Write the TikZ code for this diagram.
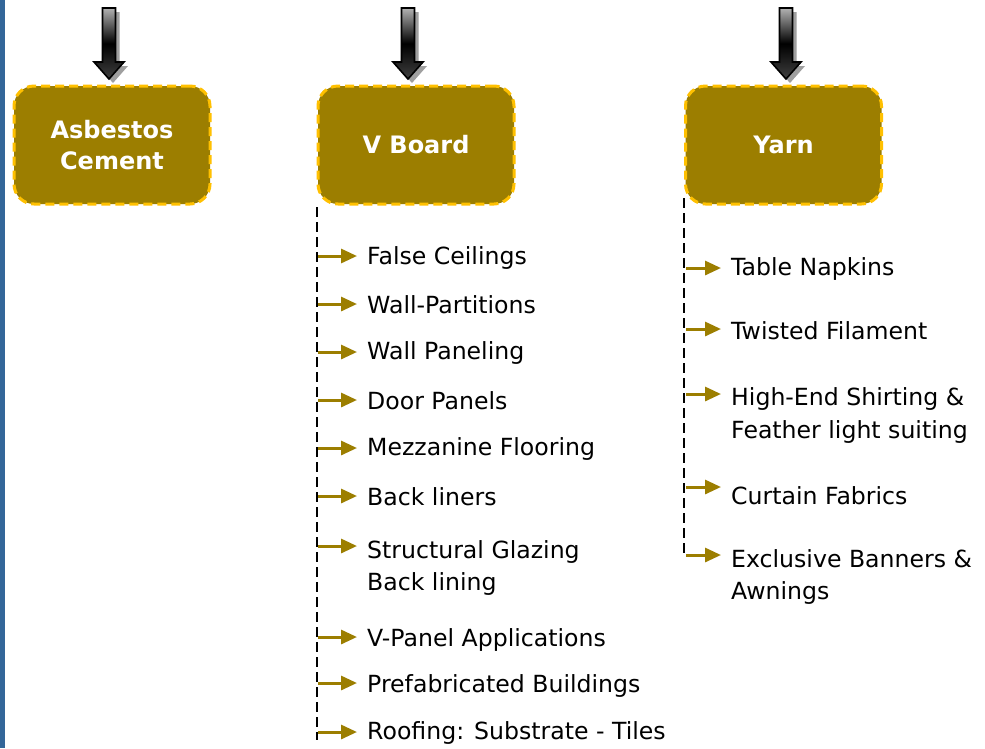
\documentclass[tikz,border=0pt]{standalone}
\usepackage{fontspec}
\setmainfont{DejaVu Sans}
\usetikzlibrary{arrows.meta}
\definecolor{olive}{HTML}{9C7E00}
\definecolor{goldline}{HTML}{FFC000}
\definecolor{sidebar}{HTML}{336699}
\tikzset{
  catbox/.style={draw=goldline, dash pattern=on 9pt off 5pt, line width=3pt, fill=olive,
    rounded corners=20pt, minimum width=196pt, minimum height=118pt, text=white,
    font=\fontsize{24}{31}\selectfont\bfseries, align=center},
  item/.style={anchor=west, inner sep=0pt, font=\fontsize{23.6}{32.5}\selectfont, align=left, text=black},
  trunk/.style={draw=black, line width=2.4pt, dash pattern=on 10pt off 5pt},
  leaf/.style={draw=olive, line width=3pt, -{Triangle[length=16pt,width=14pt]}, shorten >=10pt},
  blockarrow/.style={draw=black, line width=1.6pt, top color=gray!60, bottom color=gray!50!black, middle color=black}
}
\newcommand{\downarrowat}[1]{%
  \fill[gray!75] ([xshift=4pt,yshift=-4pt]#1) ++(-6.5,0) -- ++(0,54) -- ++(-8.5,0) -- ++(15,17) -- ++(15,-17) -- ++(-8.5,0) -- ++(0,-54) -- cycle;
  \path[blockarrow] (#1) ++(-6.5,0) -- ++(0,54) -- ++(-8.5,0) -- ++(15,17) -- ++(15,-17) -- ++(-8.5,0) -- ++(0,-54) -- cycle;
}
\begin{document}
\begin{tikzpicture}[x=1pt,y=-1pt]
\useasboundingbox (0,0) rectangle (985,748);
\fill[white] (0,0) rectangle (985,748);
\fill[sidebar] (0,0) rectangle (5,748);

% category boxes
\node[catbox] (ac) at (112,145) {Asbestos\\Cement};
\node[catbox] (vb) at (416,145) {V Board};
\node[catbox] (yarn) at (783.5,145) {Yarn};

% incoming block arrows
\coordinate (acin) at (109,8);
\coordinate (vbin) at (408,8);
\coordinate (yarnin) at (786,8);
\downarrowat{acin}
\downarrowat{vbin}
\downarrowat{yarnin}

% V Board trunk and items
\coordinate (vtop) at (317,207);
\coordinate (vbot) at (317,740);
\draw[trunk] (vtop) -- (vbot);

\node[item] (v1) at (367,258) {False Ceilings};
\node[item] (v2) at (367,305) {Wall-Partitions};
\node[item] (v3) at (367,353) {Wall Paneling};
\node[item] (v4) at (367,401) {Door Panels};
\node[item] (v5) at (367,449) {Mezzanine Flooring};
\node[item] (v6) at (367,497) {Back liners};
\node[item] (v7) at (367,568) {Structural Glazing\\Back lining};
\node[item] (v8) at (367,640) {V-Panel Applications};
\node[item] (v9) at (367,686) {Prefabricated Buildings};
\node[item] (v10) at (367,733) {Roofing: Substrate - Tiles};

\foreach \n/\y in {v1/256,v2/304,v3/352,v4/400,v5/448,v6/496,v7/546,v8/637,v9/683,v10/732}{
  \coordinate (\n s) at (318,\y);
  \draw[leaf] (\n s) -- (\n s -| \n.west);
}

% Yarn trunk and items
\coordinate (ytop) at (684,198);
\coordinate (ybot) at (684,556);
\draw[trunk] (ytop) -- (ybot);

\node[item] (y1) at (731,269) {Table Napkins};
\node[item] (y2) at (731,331) {Twisted Filament};
\node[item] (y3) at (731,415.5) {High-End Shirting \&\\Feather light suiting};
\node[item] (y4) at (731,496) {Curtain Fabrics};
\node[item] (y5) at (731,577) {Exclusive Banners \&\\Awnings};

\foreach \n/\y in {y1/268,y2/329,y3/394,y4/487,y5/555}{
  \coordinate (\n s) at (686,\y);
  \draw[leaf] (\n s) -- (\n s -| \n.west);
}
\end{tikzpicture}
\end{document}
